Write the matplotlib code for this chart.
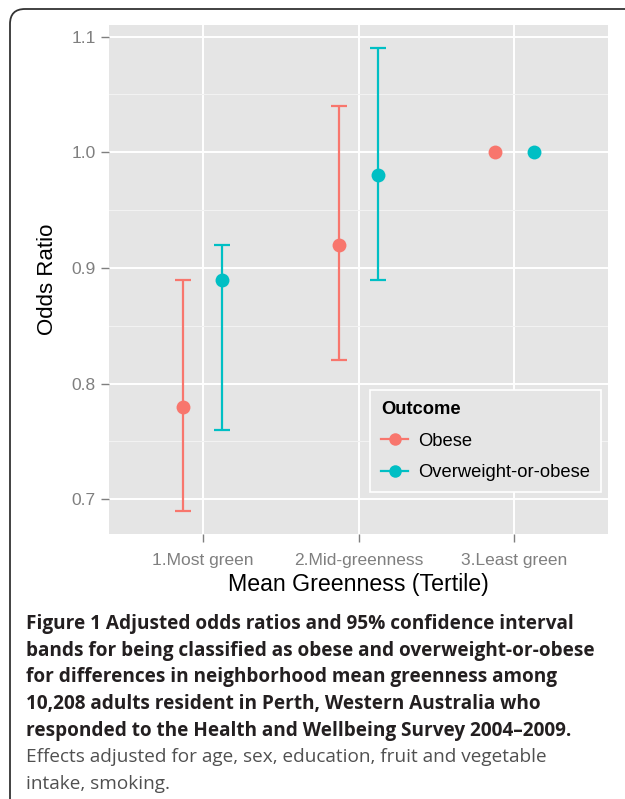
import numpy as np
import matplotlib
matplotlib.use("Agg")
from matplotlib import pyplot as plt
from matplotlib.lines import Line2D
from matplotlib.patches import FancyBboxPatch

plt.rcParams['font.family'] = ['Liberation Sans', 'DejaVu Sans']

categories = ['1.Most green', '2.Mid-greenness', '3.Least green']
obese_or = [0.78, 0.92, 1.00]
obese_lo = [0.69, 0.82, np.nan]
obese_hi = [0.89, 1.04, np.nan]
ow_or = [0.89, 0.98, 1.00]
ow_lo = [0.76, 0.89, np.nan]
ow_hi = [0.92, 1.09, np.nan]
series_names = ['Obese', 'Overweight-or-obese']
colors = ['#F8766D', '#00BFC4']

fig = plt.figure(figsize=(6.25, 7.99), dpi=100)
ax = fig.add_axes([109/625, 1-534/799, 499/625, 509/799])
ax.set_facecolor('#E5E5E5')

x = np.arange(1, len(categories)+1)
dodge = 0.125
series = [(obese_or, obese_lo, obese_hi), (ow_or, ow_lo, ow_hi)]
for i, (val, lo, hi) in enumerate(series):
    val = np.array(val); lo = np.array(lo); hi = np.array(hi)
    xs = x + (2*i-1)*dodge
    ax.errorbar(xs, val, yerr=[val-lo, hi-val], fmt='none', ecolor=colors[i],
                elinewidth=1.6, capsize=5.5, capthick=1.6, zorder=3)
    ax.plot(xs, val, 'o', color=colors[i], ms=10, mec='none', zorder=4)

ax.set_xlim(0.4, 3.6)
ax.set_ylim(0.67, 1.11)
ax.set_xticks(x)
ax.set_xticklabels(categories)
ax.set_yticks([0.7, 0.8, 0.9, 1.0, 1.1])
ax.set_yticks([0.75, 0.85, 0.95, 1.05], minor=True)
ax.grid(True, which='major', color='white', lw=1.4, zorder=0)
ax.grid(True, which='minor', axis='y', color='#F2F2F2', lw=0.8, zorder=0)
ax.set_axisbelow(True)
for s in ax.spines.values():
    s.set_visible(False)
ax.tick_params(axis='both', which='major', colors='#7F7F7F', labelsize=12.5,
               length=5.5, width=1)
ax.tick_params(axis='y', which='major', pad=4)
ax.tick_params(axis='x', which='major', pad=8)
ax.tick_params(axis='y', which='minor', length=0)

ax.set_xlabel('Mean Greenness (Tertile)', fontsize=16.7, labelpad=4)
ax.set_ylabel('Odds Ratio', fontsize=16, labelpad=10)

handles = [Line2D([], [], color=c, marker='o', lw=1.6, ms=9, mec='none') for c in colors]
leg = ax.legend(handles, series_names, title='Outcome', loc='upper left',
                bbox_to_anchor=(0.523, 0.283), borderaxespad=0, fontsize=13.2,
                frameon=True, fancybox=False, facecolor='#E5E5E5', edgecolor='white',
                framealpha=1, handlelength=1.5, borderpad=0.6, labelspacing=0.8,
                handletextpad=0.5, alignment='left')
leg.get_title().set_fontweight('bold')
leg.get_title().set_fontsize(13.2)
leg.get_frame().set_linewidth(1.2)

# caption
cap_bold = ['Figure 1 Adjusted odds ratios and 95% confidence interval',
            'bands for being classified as obese and overweight-or-obese',
            'for differences in neighborhood mean greenness among',
            '10,208 adults resident in Perth, Western Australia who',
            'responded to the Health and Wellbeing Survey 2004\u20132009.']
cap_plain = ['Effects adjusted for age, sex, education, fruit and vegetable',
             'intake, smoking.']
base = 629
for j, line in enumerate(cap_bold):
    fig.text(26/625, 1-(base+j*26.7)/799, line, fontsize=13.7, fontweight='bold',
             family=['Open Sans', 'DejaVu Sans'], color='#231F20', va='baseline')
for j, line in enumerate(cap_plain):
    fig.text(26/625, 1-(base+(j+5)*26.7)/799, line, fontsize=13.7,
             family=['Open Sans', 'DejaVu Sans'], color='#505050', va='baseline')

# rounded frame, cut off at right and bottom
frame = FancyBboxPatch((0.10, -0.5), 8.0, 7.90+0.5, boxstyle='round,pad=0,rounding_size=0.15',
                       transform=fig.dpi_scale_trans, fill=False, edgecolor='#333333', lw=1.3)
fig.add_artist(frame)

plt.savefig('out.png', dpi=100)
